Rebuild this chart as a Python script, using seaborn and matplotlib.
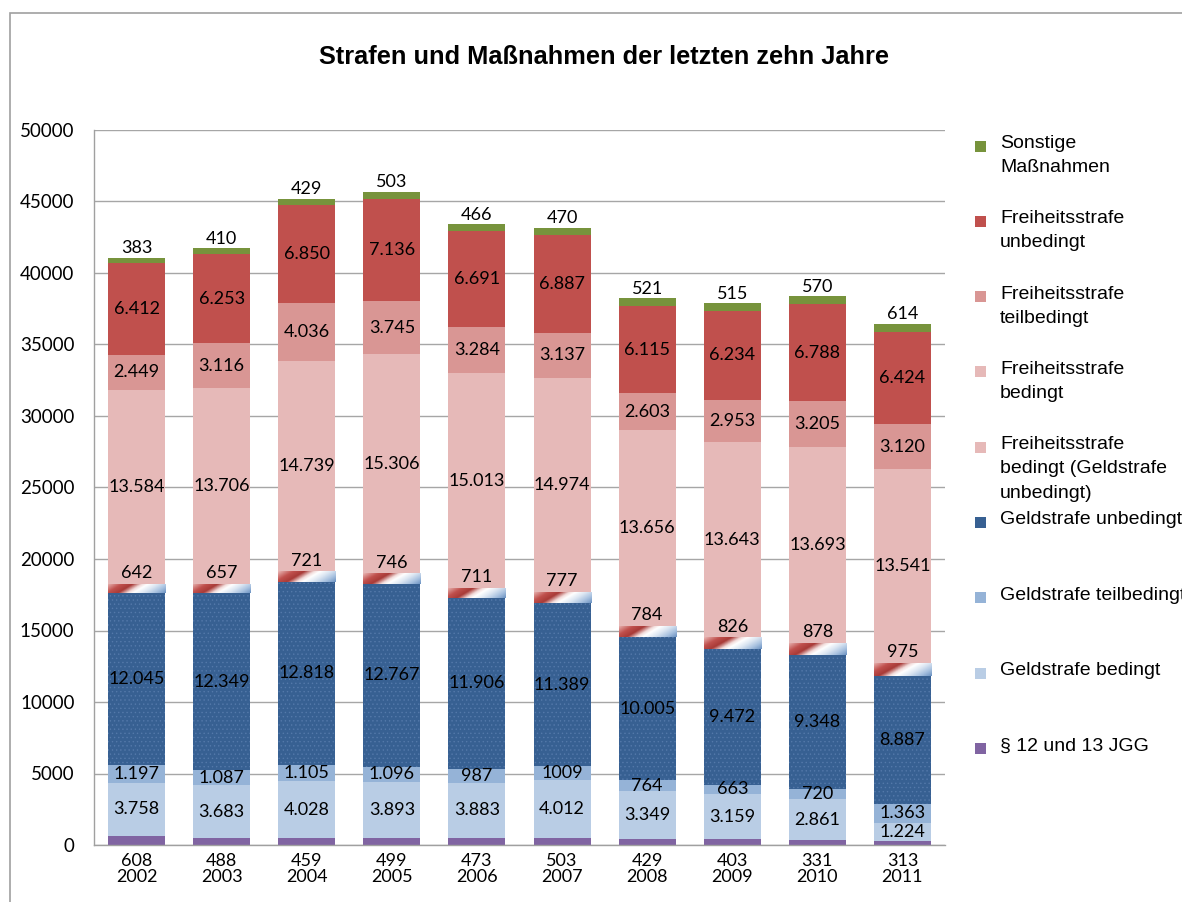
import numpy as np
import pandas as pd
import matplotlib.pyplot as plt
import matplotlib.colors as mcolors
from matplotlib.patches import Rectangle
import seaborn as sns

# Daten
jahre = ["2002", "2003", "2004", "2005", "2006", "2007", "2008", "2009", "2010", "2011"]
jgg = [608, 488, 459, 499, 473, 503, 429, 403, 331, 313]
gs_bedingt = [3758, 3683, 4028, 3893, 3883, 4012, 3349, 3159, 2861, 1224]
gs_teilbedingt = [1197, 1087, 1105, 1096, 987, 1009, 764, 663, 720, 1363]
gs_teil_labels = ["1.197", "1.087", "1.105", "1.096", "987", "1009", "764", "663", "720", "1.363"]
gs_unbedingt = [12045, 12349, 12818, 12767, 11906, 11389, 10005, 9472, 9348, 8887]
fs_bedingt_gs = [642, 657, 721, 746, 711, 777, 784, 826, 878, 975]
fs_bedingt = [13584, 13706, 14739, 15306, 15013, 14974, 13656, 13643, 13693, 13541]
fs_teilbedingt = [2449, 3116, 4036, 3745, 3284, 3137, 2603, 2953, 3205, 3120]
fs_unbedingt = [6412, 6253, 6850, 7136, 6691, 6887, 6115, 6234, 6788, 6424]
sonstige = [383, 410, 429, 503, 466, 470, 521, 515, 570, 614]

serien = [
    ("§ 12 und 13 JGG", jgg, "#8064A2"),
    ("Geldstrafe bedingt", gs_bedingt, "#B9CDE5"),
    ("Geldstrafe teilbedingt", gs_teilbedingt, "#95B3D7"),
    ("Geldstrafe unbedingt", gs_unbedingt, "#376092"),
    ("Freiheitsstrafe\nbedingt (Geldstrafe\nunbedingt)", fs_bedingt_gs, "#E6B9B8"),
    ("Freiheitsstrafe\nbedingt", fs_bedingt, "#E6B9B8"),
    ("Freiheitsstrafe\nteilbedingt", fs_teilbedingt, "#D99694"),
    ("Freiheitsstrafe\nunbedingt", fs_unbedingt, "#C0504D"),
    ("Sonstige\nMaßnahmen", sonstige, "#77933C"),
]

df = pd.DataFrame({"Jahr": jahre})
for name, werte, _ in serien:
    df[name] = werte

sns.set_theme(style="white")
plt.rcParams["font.family"] = ["Lato", "DejaVu Sans"]
plt.rcParams["hatch.linewidth"] = 0.5
plt.rcParams["text.color"] = "black"
plt.rcParams["xtick.color"] = "black"
plt.rcParams["ytick.color"] = "black"


def fmt(v):
    return f"{v:,}".replace(",", ".")


streifen = mcolors.LinearSegmentedColormap.from_list(
    "streifen", [(0.0, "#E8B5B3"), (0.2, "#C0504D"), (0.35, "#A83A37"), (0.48, "#F2DCDB"),
                 (0.56, "#FFFFFF"), (0.7, "#DCE6F2"), (0.85, "#A9C2E0"), (1.0, "#6E94C3")])

fig = plt.figure(figsize=(11.82, 9.02), dpi=100)
ax = fig.add_axes([94 / 1182, 1 - 845 / 902, 851 / 1182, 715 / 902])

unten = np.zeros(len(jahre))
for i, (name, werte, farbe) in enumerate(serien):
    kw = dict(linewidth=0, edgecolor=farbe)
    if name == "Geldstrafe unbedingt":
        kw = dict(linewidth=0, edgecolor="#5479AA", hatch="....")
    sns.barplot(data=df, x="Jahr", y=name, bottom=unten, color=farbe, width=0.67,
                saturation=1, ax=ax, zorder=2, **kw)
    cont = ax.containers[-1]
    werte = np.array(werte)

    if i == 4:
        # Verlaufsstreifen wie im Original
        for p in cont.patches:
            x0, y0, w, h = p.get_x(), p.get_y(), p.get_width(), p.get_height()
            hpx = h * 715 / 50000
            xx, yy = np.meshgrid(np.linspace(0, 57, 80), np.linspace(0, hpx, 20))
            t = (xx - 1.7 * yy + 1.7 * hpx) / (57 + 1.7 * hpx)
            im = ax.imshow(t, cmap=streifen, origin="lower", aspect="auto",
                           extent=[x0, x0 + w, y0, y0 + h], zorder=2.5, vmin=0, vmax=1)
            im.set_clip_path(p)
        ax.bar_label(cont, labels=[fmt(v) for v in werte], label_type="edge",
                     padding=2, fontsize=13, color="black", zorder=4)
    elif i == 0:
        pass
    elif i == 8:
        ax.bar_label(cont, labels=[fmt(v) for v in werte], label_type="edge",
                     padding=1, fontsize=13, color="black")
    elif i == 2:
        ax.bar_label(cont, labels=gs_teil_labels, label_type="center",
                     fontsize=13, color="black")
    else:
        ax.bar_label(cont, labels=[fmt(v) for v in werte], label_type="center",
                     fontsize=13, color="black")
    unten = unten + werte

ax.set_xlim(-0.5, len(jahre) - 0.5)
ax.set_ylim(0, 50000)
ax.set_yticks(range(0, 50001, 5000))
ax.set_xticks(range(len(jahre)))
ax.set_xticklabels([f"{j}\n{y}" for j, y in zip(jgg, jahre)], fontsize=13, linespacing=0.95)
ax.tick_params(axis="y", labelsize=13.5, length=4, color="#A0A0A0", labelcolor="black", pad=10)
ax.tick_params(axis="x", length=0, pad=6, labelcolor="black")
ax.yaxis.grid(True, color="#A6A6A6", linewidth=1)
ax.set_axisbelow(True)
ax.set_xlabel("")
ax.set_ylabel("")
for s in ["top", "right"]:
    ax.spines[s].set_visible(False)
for s in ["left", "bottom"]:
    ax.spines[s].set_color("#A0A0A0")
    ax.spines[s].set_linewidth(1)

fig.text(604 / 1182, 1 - 57 / 902, "Strafen und Maßnahmen der letzten zehn Jahre",
         ha="center", va="center", fontsize=18.3, fontweight="bold", color="black",
         family=["Liberation Sans", "DejaVu Sans"])

# Rahmen
fig.patches.append(Rectangle((10 / 1182, -0.1), 1.2, 1.1 - 13 / 902, transform=fig.transFigure,
                             fill=False, edgecolor="#A0A0A0", linewidth=1.2))

# Legende (manuell, wie Excel; rechts abgeschnitten wie im Original)
for k, (name, _, farbe) in enumerate(reversed(serien)):
    yc = 1 - (146 + k * 75.3) / 902
    fig.patches.append(Rectangle((975 / 1182, yc - 5.5 / 902), 11 / 1182, 11 / 902,
                                 transform=fig.transFigure, facecolor=farbe, edgecolor="none"))
    fig.text(1000 / 1182, yc + 11 / 902, name, ha="left", va="top", fontsize=14,
             linespacing=1.55, color="black", family=["Liberation Sans", "DejaVu Sans"])

fig.savefig("out.png", dpi=100)
